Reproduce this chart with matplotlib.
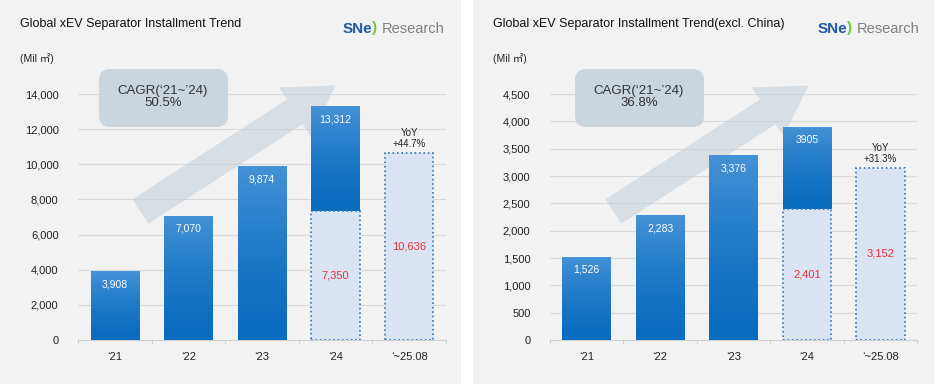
import numpy as np
import matplotlib
matplotlib.use('Agg')
import matplotlib.pyplot as plt
from matplotlib.patches import Rectangle, FancyBboxPatch, FancyArrowPatch

plt.rcParams['font.family'] = ['Liberation Sans', 'Noto Sans CJK KR', 'DejaVu Sans']

# Datos
years = ["‘21", "‘22", "‘23", "‘24", "‘~25.08"]
total_all = [3908, 7070, 9874, 13312]
part_all = [7350, 10636]          # '24 hasta agosto, '~25.08
total_ex = [1526, 2283, 3376, 3905]
part_ex = [2401, 3152]
labels_all = ["3,908", "7,070", "9,874", "13,312"]
labels_ex = ["1,526", "2,283", "3,376", "3905"]
cagr_all = "CAGR(‘21~’24)\n50.5%"
cagr_ex = "CAGR(‘21~’24)\n36.8%"
yoy_all = "YoY\n+44.7%"
yoy_ex = "YoY\n+31.3%"
titles = ["Global xEV Separator Installment Trend",
          "Global xEV Separator Installment Trend(excl. China)"]

W, H = 936, 384
fig = plt.figure(figsize=(W / 100, H / 100), dpi=100, facecolor='white')


def fx(x):
    return x / W


def fy(y):
    return 1 - y / H


BLUE_TOP = '#4592d6'
BLUE_BOT = '#0a6cbf'
LIGHT = '#dae3f3'
EDGE = '#2e75b6'
RED = '#e8303a'
grad = np.linspace(0, 1, 100).reshape(-1, 1) ** 1.5
cmap = matplotlib.colors.LinearSegmentedColormap.from_list('b', [BLUE_BOT, BLUE_TOP])


def panel(x0, x_ax0, x_ax1, ymax, step, totals, parts, labels, cagr, yoy, title):
    # fondo gris del panel
    fig.patches.append(Rectangle((fx(x0), 0), fx(461), 1, transform=fig.transFigure,
                                 facecolor='#f2f2f2', edgecolor='none', zorder=-5))
    ax = fig.add_axes([fx(x_ax0), fy(340), fx(x_ax1 - x_ax0), (340 - 94) / H])
    ax.set_zorder(2)
    ax.set_facecolor('none')
    ax.set_xlim(-0.5, 4.5)
    ax.set_ylim(0, ymax)
    ax.set_yticks(np.arange(0, ymax + 1, step))
    ax.set_yticklabels([f"{v:,}" for v in np.arange(0, ymax + 1, step)], fontsize=8, color='#222222')
    ax.set_xticks(range(5))
    ax.set_xticklabels(years, fontsize=8, color='#222222')
    ax.set_xticks(np.arange(-0.5, 5, 1), minor=True)
    ax.tick_params(axis='y', length=0, pad=14)
    ax.tick_params(axis='x', which='major', length=0, pad=9)
    ax.tick_params(axis='x', which='minor', length=3, color='#cccccc')
    ax.grid(axis='y', color='#d9d9d9', linewidth=0.8)
    ax.set_axisbelow(True)
    for s in ['top', 'left', 'right']:
        ax.spines[s].set_visible(False)
    ax.spines['bottom'].set_color('#d0d0d0')

    w = 0.66
    # barras azules con degradado
    for i, v in enumerate(totals):
        base = parts[0] if i == 3 else 0
        r = Rectangle((i - w / 2, base), w, v - base, facecolor='none', edgecolor='none')
        ax.add_patch(r)
        im = ax.imshow(grad, extent=(i - w / 2, i + w / 2, base, v), origin='lower',
                       cmap=cmap, aspect='auto', zorder=3)
        im.set_clip_path(r)
        ax.annotate(labels[i], (i, v), xytext=(0, -13), textcoords='offset pixels',
                    ha='center', va='center', color='white', fontsize=7.5, zorder=5)
    # barras claras punteadas
    for i, v in zip([3, 4], parts):
        ax.bar(i, v, width=w, color=LIGHT, edgecolor=EDGE, linestyle=':', linewidth=1.2, zorder=3)
        ax.text(i, v / 2, f"{v:,}", ha='center', va='center', color=RED, fontsize=8, zorder=5)
    ax.annotate(yoy, (4, parts[1]), xytext=(0, 4), textcoords='offset pixels',
                ha='center', va='bottom', fontsize=7, color='#222222', linespacing=1.1)
    ax.set_xlim(-0.5, 4.5)
    ax.set_ylim(0, ymax)

    # flecha de tendencia (detras de las barras)
    arr = FancyArrowPatch((fx(x0 + 138), fy(213)), (fx(x0 + 338), fy(84)),
                          transform=fig.transFigure,
                          arrowstyle='simple,head_width=3.0,head_length=2.5,tail_width=1.5',
                          mutation_scale=14, facecolor='#c5d2dc', edgecolor='none',
                          alpha=0.6, zorder=2, clip_on=False)
    ax.add_artist(arr)

    # caja CAGR
    dx = 0 if x0 == 0 else 476
    box = FancyBboxPatch((fx(99 + dx), fy(127)), fx(129), (127 - 69) / H,
                         boxstyle='round,pad=0,rounding_size=0.012',
                         transform=fig.transFigure, facecolor='#cbd5dd', edgecolor='none',
                         zorder=2.5, mutation_aspect=W / H, clip_on=False)
    ax.add_artist(box)
    fig.text(fx(163 + dx), fy(97), cagr, ha='center', va='center', fontsize=9.5,
             color='#333333', linespacing=1.0, zorder=10)

    # titulo, unidad y logo
    fig.text(fx(x0 + 20), fy(24), title, ha='left', va='center', fontsize=9, color='#111111')
    fig.text(fx(x0 + 20), fy(58), "(Mil ㎡)", ha='left', va='center', fontsize=7.5, color='#222222')
    lx = 343 if x0 == 0 else 818
    fig.text(fx(lx), fy(29), "SNe", ha='left', va='center', fontsize=11, fontweight='bold',
             color='#1f5aa6')
    fig.text(fx(lx + 29), fy(28), ")", ha='left', va='center', fontsize=11, fontweight='bold',
             color='#7cc242')
    fig.text(fx(lx + 39), fy(29), "Research", ha='left', va='center', fontsize=10.5,
             color='#7f7f7f')


panel(0, 78, 446, 14000, 2000, total_all, part_all, labels_all, cagr_all, yoy_all, titles[0])
panel(473, 550, 917, 4500, 500, total_ex, part_ex, labels_ex, cagr_ex, yoy_ex, titles[1])

fig.savefig('out.png', dpi=100, facecolor='white')
